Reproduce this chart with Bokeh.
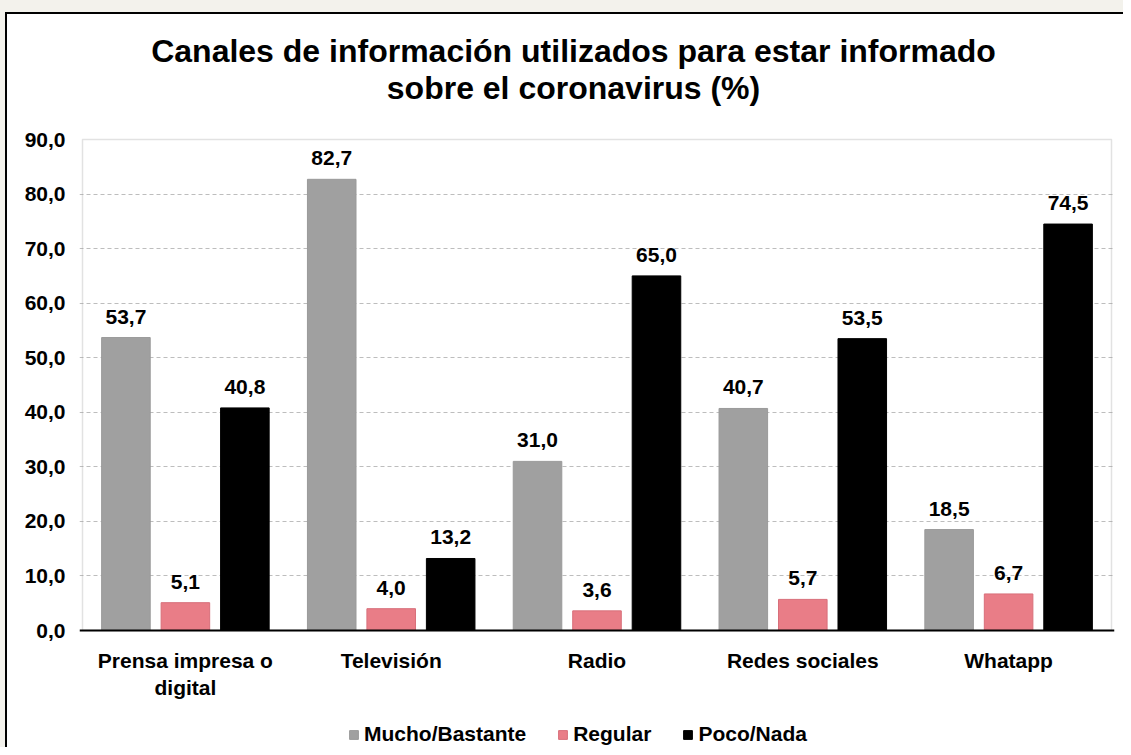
from bokeh.plotting import figure
from bokeh.models import (ColumnDataSource, FactorRange, Range1d, FixedTicker,
                          LabelSet, Label, Legend, LegendItem, BoxAnnotation, Span)
from bokeh.transform import dodge
from bokeh.core.properties import value
from bokeh.embed import file_html
from bokeh.resources import INLINE

# ---- data ----
categories = ["Prensa impresa o\ndigital", "Televisión", "Radio", "Redes sociales", "Whatapp"]
mucho = [53.7, 82.7, 31.0, 40.7, 18.5]
regular = [5.1, 4.0, 3.6, 5.7, 6.7]
poco = [40.8, 13.2, 65.0, 53.5, 74.5]
series_names = ["Mucho/Bastante", "Regular", "Poco/Nada"]
y_ticks = [0, 10, 20, 30, 40, 50, 60, 70, 80, 90]
y_tick_labels = ["0,0", "10,0", "20,0", "30,0", "40,0", "50,0", "60,0", "70,0", "80,0", "90,0"]
title_lines = ["Canales de información utilizados para estar informado",
               "sobre el coronavirus (%)"]

# ---- layout (pixels within the figure) ----
FIG_W, FIG_H = 1123, 747
PLOT_L, PLOT_R = 82, 1111          # plot-area box, px
PLOT_TOP_PX, PLOT_BOT_PX = 139, 630
EDGE = 3                           # frame extends a little beyond the box
FONT = "Liberation Sans"
colors = ["#a0a0a0", "#e97d87", "#000000"]
line_colors = ["#9a9a9a", "#d86f7a", "#000000"]

y_max = y_ticks[-1]
scale = (PLOT_BOT_PX - PLOT_TOP_PX) / y_max          # px per unit
y_start = -(FIG_H - PLOT_BOT_PX) / scale
y_end = PLOT_BOT_PX / scale
cat_px = (PLOT_R - PLOT_L) / len(categories)
x_pad = EDGE / cat_px

def fmt(v):
    return f"{v:.1f}".replace(".", ",")

src = ColumnDataSource(dict(
    cat=categories,
    mucho=mucho, regular=regular, poco=poco,
    mucho_t=[fmt(v) for v in mucho],
    regular_t=[fmt(v) for v in regular],
    poco_t=[fmt(v) for v in poco],
    zero=[0] * len(categories),
))

p = figure(width=FIG_W, height=FIG_H,
           x_range=FactorRange(*categories, range_padding=x_pad, range_padding_units="absolute"),
           y_range=Range1d(y_start, y_end), output_backend="svg", toolbar_location=None,
           min_border_left=PLOT_L - EDGE, min_border_right=FIG_W - PLOT_R - EDGE,
           min_border_top=0, min_border_bottom=0)
p.styles = {"background": (
    "linear-gradient(#000,#000) 5px 12px / 2px 100% no-repeat, "
    "linear-gradient(#000,#000) 5px 12px / 100% 2px no-repeat, "
    "linear-gradient(#f3f2ec,#f3f2ec) 0 0 / 100% 12px no-repeat, "
    "linear-gradient(#f3f2ec,#f3f2ec) 0 0 / 5px 100% no-repeat, #ffffff")}
p.background_fill_alpha = 0
p.border_fill_alpha = 0
p.outline_line_color = None

# grid
p.xgrid.grid_line_color = None
p.ygrid.ticker = FixedTicker(ticks=y_ticks[1:-1])
p.ygrid.grid_line_color = "#bdbdbd"
p.ygrid.grid_line_dash = "4 3"
p.ygrid.grid_line_width = 1

# plot-area box and baseline
p.add_layout(BoxAnnotation(left=0, right=len(categories), bottom=0, top=y_max,
                           fill_alpha=0, line_color="#a0a0a0", line_width=1.5,
                           level="underlay"))

offsets = [-0.289, 0.0, 0.289]
fields = ["mucho", "regular", "poco"]
renderers = []
for f, off, c, lc in zip(fields, offsets, colors, line_colors):
    r = p.vbar(x=dodge("cat", off, range=p.x_range), top=f, width=0.236, source=src,
               fill_color=c, line_color=lc, line_width=1)
    renderers.append(r)
    p.add_layout(LabelSet(x=dodge("cat", off, range=p.x_range), y=f, text=f + "_t",
                          source=src, y_offset=14, text_align="center",
                          text_baseline="alphabetic", text_font=value(FONT),
                          text_font_style="bold", text_font_size="21px",
                          text_color="black"))

p.add_layout(Span(location=0, dimension="width", line_color="black", line_width=2))

# category labels
p.text(x="cat", y="zero", text="cat", source=src, y_offset=18, text_align="center",
       text_baseline="top", text_font=value(FONT), text_font_style="bold",
       text_font_size="21px", text_color="black", text_line_height=1.2)

# y axis
p.xaxis.visible = False
p.yaxis.ticker = FixedTicker(ticks=y_ticks)
p.yaxis.major_label_overrides = {t: l for t, l in zip(y_ticks, y_tick_labels)}
p.yaxis.major_tick_in = 0
p.yaxis.major_tick_out = 0
p.yaxis.minor_tick_in = 0
p.yaxis.minor_tick_out = 0
p.yaxis.axis_line_color = None
p.yaxis.major_label_standoff = 14
p.yaxis.major_label_text_font = FONT
p.yaxis.major_label_text_font_style = "bold"
p.yaxis.major_label_text_font_size = "21px"
p.yaxis.major_label_text_color = "black"

# title
title_cx = (573 - PLOT_L) / cat_px
for t, base_px in zip(title_lines, [50, 87]):
    p.add_layout(Label(x=title_cx, y=(PLOT_BOT_PX - base_px) / scale, text=t,
                       text_align="center", text_baseline="alphabetic",
                       text_font=FONT, text_font_style="bold",
                       text_font_size="32px", text_color="black"))

legend = Legend(items=[LegendItem(label=n, renderers=[r]) for n, r in zip(series_names, renderers)],
                orientation="horizontal", location=(348 - (PLOT_L - EDGE), 1),
                padding=0, margin=0, spacing=31, glyph_width=11, glyph_height=11,
                label_standoff=5, label_height=24, label_text_font=FONT,
                label_text_font_style="bold", label_text_font_size="21px",
                label_text_color="black",
                border_line_color=None, background_fill_alpha=0)
p.add_layout(legend, "center")

html = file_html(p, INLINE)
open("out.html", "w").write(html)
